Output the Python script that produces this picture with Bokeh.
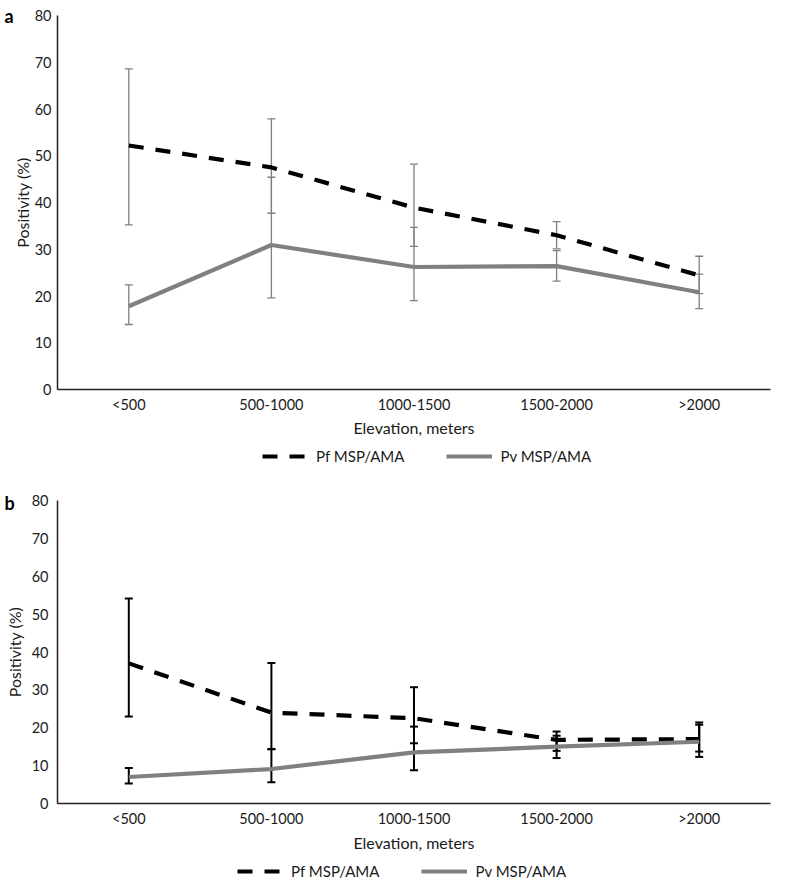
from bokeh.plotting import figure
from bokeh.models import (FactorRange, Range1d, SingleIntervalTicker, Whisker, TeeHead,
                          ColumnDataSource, Legend, LegendItem, Label)
from bokeh.layouts import column
from bokeh.embed import file_html
from bokeh.resources import INLINE

categories = ["<500", "500-1000", "1000-1500", "1500-2000", ">2000"]

# Panel a
a_pf = [52.2, 47.5, 38.9, 33.0, 24.4]
a_pf_lo = [35.2, 37.7, 30.6, 30.1, 20.5]
a_pf_hi = [68.6, 57.9, 48.2, 35.9, 28.5]
a_pv = [17.8, 30.9, 26.2, 26.4, 20.8]
a_pv_lo = [13.9, 19.6, 19.0, 23.2, 17.3]
a_pv_hi = [22.4, 45.4, 34.7, 29.7, 24.7]

# Panel b
b_pf = [37.0, 24.0, 22.5, 16.8, 17.0]
b_pf_lo = [23.0, 14.4, 15.9, 13.9, 12.3]
b_pf_hi = [54.1, 37.1, 30.7, 19.0, 21.4]
b_pv = [7.0, 9.1, 13.5, 15.0, 16.3]
b_pv_lo = [5.3, 5.6, 8.8, 12.0, 13.7]
b_pv_hi = [9.4, 14.3, 20.3, 17.9, 20.8]

y_ticks_interval = 10
series_names = ["Pf MSP/AMA", "Pv MSP/AMA"]
x_title = "Elevation, meters"
y_title = "Positivity (%)"

FONT = "Lato"
TXT = "#1a1a1a"
GRAY = "#808080"
PF_STYLE = dict(line_color="black", line_width=4.2, line_dash="15 12")
PV_STYLE = dict(line_color=GRAY, line_width=4.2)
W = 797


def make_panel(letter, pf, pf_lo, pf_hi, pv, pv_lo, pv_hi, height, border_left,
               border_top, border_right, border_bottom, err_color, err_width,
               y_label_standoff, y_title_standoff, x_label_standoff, x_title_standoff,
               letter_side, letter_x, letter_y):
    p = figure(x_range=FactorRange(factors=categories), y_range=Range1d(0, 80),
               width=W, height=height, output_backend="svg", toolbar_location=None,
               min_border_left=border_left, min_border_right=border_right,
               min_border_top=border_top, min_border_bottom=border_bottom)
    p.outline_line_color = None
    p.xgrid.visible = False
    p.ygrid.visible = False

    src_pf = ColumnDataSource(dict(x=categories, y=pf, lo=pf_lo, hi=pf_hi))
    src_pv = ColumnDataSource(dict(x=categories, y=pv, lo=pv_lo, hi=pv_hi))

    p.line("x", "y", source=src_pf, **PF_STYLE)
    p.line("x", "y", source=src_pv, **PV_STYLE)

    for src in (src_pf, src_pv):
        w = Whisker(source=src, base="x", lower="lo", upper="hi",
                    line_color=err_color, line_width=err_width,
                    upper_head=TeeHead(size=8, line_color=err_color, line_width=err_width),
                    lower_head=TeeHead(size=8, line_color=err_color, line_width=err_width))
        p.add_layout(w)

    p.yaxis.ticker = SingleIntervalTicker(interval=y_ticks_interval)
    for ax in (p.xaxis[0], p.yaxis[0]):
        ax.major_tick_line_color = None
        ax.minor_tick_line_color = None
        ax.major_tick_out = 0
        ax.major_tick_in = 0
        ax.minor_tick_out = 0
        ax.minor_tick_in = 0
        ax.axis_line_color = "#222222"
        ax.axis_line_width = 1.5
        ax.major_label_text_font = FONT
        ax.major_label_text_font_size = "14.5px"
        ax.major_label_text_color = TXT
        ax.axis_label_text_font = FONT
        ax.axis_label_text_font_style = "normal"
        ax.axis_label_text_color = TXT
        ax.axis_label_text_font_size = "16px"
    p.yaxis.major_label_standoff = y_label_standoff
    p.yaxis.axis_label = y_title
    p.yaxis.axis_label_standoff = y_title_standoff
    p.xaxis.major_label_standoff = x_label_standoff
    p.xaxis.axis_label = x_title
    p.xaxis.axis_label_standoff = x_title_standoff

    lab = Label(x=letter_x, y=letter_y, x_units="screen", y_units="screen", text=letter,
                text_font=FONT, text_font_style="bold", text_font_size="18px",
                text_color="black", text_baseline="middle", text_align="left")
    p.add_layout(lab, letter_side)
    return p


def make_legend(height, x0, y0, pf, pv):
    p = figure(x_range=FactorRange(factors=categories), y_range=Range1d(1000, 1001),
               width=W, height=height, output_backend="svg", toolbar_location=None,
               min_border=0, min_border_left=0, min_border_right=0,
               min_border_top=0, min_border_bottom=0,
               x_axis_type=None, y_axis_type=None)
    p.grid.visible = False
    p.outline_line_color = None
    r_pf = p.line(x=categories, y=pf, **PF_STYLE)
    r_pv = p.line(x=categories, y=pv, **PV_STYLE)
    legend = Legend(items=[LegendItem(label=series_names[0], renderers=[r_pf]),
                           LegendItem(label=series_names[1], renderers=[r_pv])],
                    orientation="horizontal", location=(x0, y0),
                    glyph_width=46, glyph_height=18, label_height=18,
                    label_standoff=8, spacing=42, padding=0, margin=0,
                    border_line_color=None, background_fill_alpha=0,
                    label_text_font=FONT, label_text_font_size="15px",
                    label_text_color=TXT)
    p.add_layout(legend)
    return p


pa = make_panel("a", a_pf, a_pf_lo, a_pf_hi, a_pv, a_pv_lo, a_pv_hi,
                height=441, border_left=56, border_top=15, border_right=0, border_bottom=52,
                err_color=GRAY, err_width=1.3,
                y_label_standoff=6, y_title_standoff=0, x_label_standoff=6, x_title_standoff=2,
                letter_side="left", letter_x=4, letter_y=374)
la = make_legend(27, 205, 3, a_pf, a_pv)
pb = make_panel("b", b_pf, b_pf_lo, b_pf_hi, b_pv, b_pv_lo, b_pv_hi,
                height=388, border_left=57, border_top=32, border_right=27, border_bottom=53,
                err_color="black", err_width=2,
                y_label_standoff=9, y_title_standoff=5, x_label_standoff=6, x_title_standoff=3,
                letter_side="right", letter_x=4 - 770, letter_y=301)
lb = make_legend(25, 180, 1, b_pf, b_pv)

layout = column(pa, la, pb, lb, spacing=0)
open("out.html", "w").write(file_html(layout, INLINE))
